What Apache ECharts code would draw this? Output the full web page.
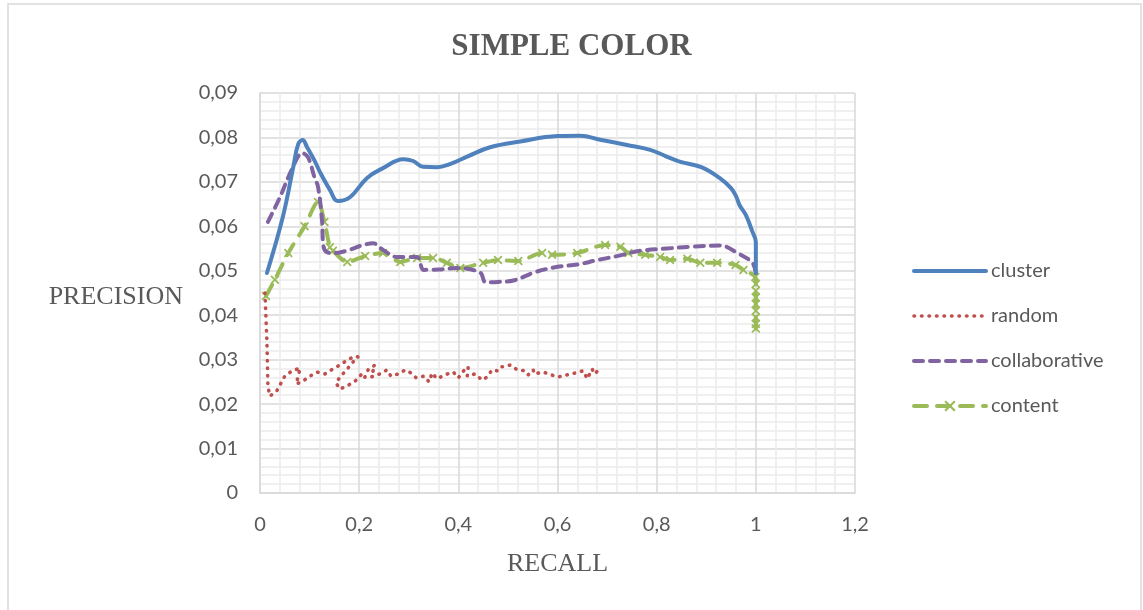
<!DOCTYPE html>
<html>
<head>
<meta charset="utf-8">
<title>SIMPLE COLOR</title>
<script src="https://cdn.jsdelivr.net/npm/echarts@6/dist/echarts.min.js"></script>
<style>
  html, body { margin: 0; padding: 0; background: #ffffff; }
  #chart { width: 1143px; height: 610px; }
</style>
</head>
<body>
<div id="chart"></div>
<script>
// Precision / recall curves for four recommenders, [recall, precision] pairs.
var clusterPoints = [
  [0.014, 0.0495], [0.046, 0.0621], [0.067, 0.0733], [0.077, 0.0785], [0.086, 0.0794],
  [0.095, 0.0778], [0.11, 0.0748], [0.121, 0.0722], [0.141, 0.0682], [0.157, 0.0657],
  [0.182, 0.0666], [0.216, 0.0709], [0.248, 0.0731], [0.289, 0.0751], [0.309, 0.0747],
  [0.329, 0.0734], [0.357, 0.0733], [0.383, 0.074], [0.42, 0.0758], [0.464, 0.0778],
  [0.525, 0.0791], [0.6, 0.0803], [0.646, 0.0804], [0.686, 0.0795], [0.74, 0.0783],
  [0.787, 0.0772], [0.82, 0.0757], [0.848, 0.0745], [0.89, 0.0733], [0.928, 0.0708],
  [0.95, 0.0686], [0.96, 0.0668], [0.967, 0.0648], [0.98, 0.0625], [0.993, 0.0588],
  [1.0, 0.0565], [1.0, 0.0495]
];

var randomPoints = [
  [0.01, 0.045], [0.014, 0.034], [0.016, 0.0239], [0.02, 0.0218], [0.034, 0.023],
  [0.05, 0.0263], [0.065, 0.0275], [0.081, 0.0281], [0.073, 0.0245], [0.087, 0.0252],
  [0.101, 0.0263], [0.115, 0.0272], [0.131, 0.0268], [0.147, 0.0279], [0.161, 0.0288],
  [0.176, 0.0299], [0.192, 0.0308], [0.198, 0.0306], [0.186, 0.0293], [0.176, 0.0279],
  [0.163, 0.0263], [0.153, 0.0248], [0.161, 0.0234], [0.176, 0.0241], [0.192, 0.0252],
  [0.204, 0.0266], [0.21, 0.0257], [0.218, 0.0277], [0.232, 0.0288], [0.224, 0.0261],
  [0.242, 0.0268], [0.256, 0.0277], [0.264, 0.0263], [0.279, 0.0268], [0.293, 0.0277],
  [0.305, 0.027], [0.315, 0.0259], [0.331, 0.0263], [0.341, 0.025], [0.347, 0.027],
  [0.357, 0.0257], [0.373, 0.0266], [0.39, 0.0272], [0.4, 0.0259], [0.408, 0.0272],
  [0.42, 0.0284], [0.418, 0.0263], [0.434, 0.0268], [0.448, 0.0254], [0.458, 0.0261],
  [0.468, 0.0277], [0.478, 0.0275], [0.484, 0.0284], [0.49, 0.0284], [0.505, 0.0288],
  [0.519, 0.0277], [0.535, 0.0275], [0.541, 0.0266], [0.551, 0.0277], [0.553, 0.0268],
  [0.571, 0.0272], [0.587, 0.0266], [0.601, 0.0261], [0.62, 0.0266], [0.636, 0.027],
  [0.652, 0.0275], [0.66, 0.0257], [0.67, 0.0279], [0.674, 0.0268], [0.686, 0.0279]
];

var collaborativePoints = [
  [0.016, 0.061], [0.04, 0.0665], [0.065, 0.073], [0.085, 0.0765], [0.097, 0.0755],
  [0.11, 0.071], [0.117, 0.0689], [0.125, 0.0614], [0.128, 0.0555], [0.135, 0.0542],
  [0.15, 0.054], [0.18, 0.0547], [0.205, 0.0557], [0.228, 0.0562], [0.248, 0.0547],
  [0.276, 0.0531], [0.317, 0.0531], [0.33, 0.0502], [0.36, 0.0503], [0.397, 0.0506],
  [0.444, 0.0496], [0.455, 0.0474], [0.48, 0.0475], [0.511, 0.0478], [0.555, 0.0497],
  [0.6, 0.0509], [0.64, 0.0514], [0.68, 0.0524], [0.72, 0.0533], [0.767, 0.0545],
  [0.82, 0.055], [0.868, 0.0554], [0.928, 0.0557], [0.963, 0.054], [0.993, 0.0518],
  [1.0, 0.0495]
];

var contentPoints = [
  [0.012, 0.0443], [0.03, 0.048], [0.057, 0.054], [0.09, 0.06], [0.117, 0.0655],
  [0.13, 0.061], [0.141, 0.0553], [0.147, 0.0545], [0.176, 0.052], [0.212, 0.0533],
  [0.248, 0.054], [0.283, 0.052], [0.317, 0.0529], [0.349, 0.0529], [0.377, 0.0518],
  [0.404, 0.0506], [0.45, 0.0518], [0.48, 0.0524], [0.521, 0.0522], [0.569, 0.054],
  [0.589, 0.0536], [0.64, 0.054], [0.696, 0.0558], [0.727, 0.0554], [0.743, 0.054],
  [0.777, 0.0536], [0.807, 0.0531], [0.827, 0.0524], [0.862, 0.0527], [0.888, 0.0518],
  [0.922, 0.0518], [0.959, 0.0513], [0.975, 0.0502], [0.999, 0.0486], [1.0, 0.047],
  [1.0, 0.0455], [1.0, 0.044], [1.0, 0.0425], [1.0, 0.041], [1.0, 0.0395],
  [1.0, 0.038], [1.0, 0.037]
];

var seriesNames = ['cluster', 'random', 'collaborative', 'content'];
var chartTitle = 'SIMPLE COLOR';
var xAxisName = 'RECALL';
var yAxisName = 'PRECISION';

var TEXT_GREY = '#595959';
var COLORS = ['#4F81BD', '#C0504D', '#8064A2', '#9BBB59'];
var DASHES = ['solid', [0.5, 7], [9, 7], [13, 10]];
var WIDTHS = [4, 3.6, 4, 4];
var CROSS = 'path://M0,1.4L1.4,0L5,3.6L8.6,0L10,1.4L6.4,5L10,8.6L8.6,10L5,6.4L1.4,10L0,8.6L3.6,5Z';

function commaNumber(v, digits) {
  if (Math.abs(v) < 1e-9) return '0';
  if (Math.abs(v - Math.round(v)) < 1e-9) return String(Math.round(v));
  return v.toFixed(digits).replace('.', ',');
}

// Legend entries: plain line samples, the content entry keeps its cross marker.
var legendItems = seriesNames.map(function (name, i) {
  return {
    name: name,
    itemStyle: { opacity: i === 3 ? 1 : 0 },
    lineStyle: { color: COLORS[i], width: WIDTHS[i], type: DASHES[i], cap: 'round' }
  };
});

var chart = echarts.init(document.getElementById('chart'), null, { renderer: 'canvas' });

chart.setOption({
  backgroundColor: '#ffffff',
  animation: false,
  title: {
    text: chartTitle,
    left: 'center',
    top: 26,
    textStyle: {
      fontFamily: '"Liberation Serif", "DejaVu Serif", serif',
      fontWeight: 'bold',
      fontSize: 31,
      color: TEXT_GREY
    }
  },
  graphic: [{
    type: 'rect',
    shape: { x: 8, y: 4, width: 1133, height: 640 },
    style: { fill: 'none', stroke: '#d9d9d9', lineWidth: 1.5 },
    silent: true,
    z: -10
  }],
  legend: {
    orient: 'vertical',
    left: 907,
    top: 256,
    itemWidth: 72,
    itemHeight: 14,
    itemGap: 25,
    textStyle: { fontFamily: 'Lato, "Open Sans", sans-serif', fontSize: 20, color: TEXT_GREY },
    data: legendItems
  },
  grid: { left: 260, top: 93, width: 595, height: 400, containLabel: false },
  xAxis: {
    type: 'value',
    min: 0,
    max: 1.2,
    interval: 0.2,
    name: xAxisName,
    nameLocation: 'middle',
    nameGap: 58,
    nameTextStyle: {
      fontFamily: '"Liberation Serif", "DejaVu Serif", serif',
      fontSize: 26,
      color: TEXT_GREY
    },
    axisLine: { show: true, lineStyle: { color: '#d9d9d9', width: 1.5 } },
    axisTick: { show: false },
    axisLabel: {
      margin: 22,
      fontFamily: 'Lato, "Open Sans", sans-serif',
      fontSize: 20,
      color: TEXT_GREY,
      formatter: function (v) { return commaNumber(v, 1); }
    },
    splitLine: { show: true, lineStyle: { color: '#d9d9d9', width: 1.5 } },
    minorTick: { show: false, splitNumber: 5 },
    minorSplitLine: { show: true, lineStyle: { color: '#ececec', width: 1.5 } }
  },
  yAxis: {
    type: 'value',
    min: 0,
    max: 0.09,
    interval: 0.01,
    name: yAxisName,
    nameLocation: 'middle',
    nameRotate: 0,
    nameGap: 77,
    nameTextStyle: {
      fontFamily: '"Liberation Serif", "DejaVu Serif", serif',
      fontSize: 26,
      color: TEXT_GREY,
      align: 'right',
      verticalAlign: 'top',
      lineHeight: 8
    },
    axisLine: { show: true, lineStyle: { color: '#d9d9d9', width: 1.5 } },
    axisTick: { show: false },
    axisLabel: {
      margin: 22,
      fontFamily: 'Lato, "Open Sans", sans-serif',
      fontSize: 20,
      color: TEXT_GREY,
      formatter: function (v) { return commaNumber(v, 2); }
    },
    splitLine: { show: true, lineStyle: { color: '#d9d9d9', width: 1.5 } },
    minorTick: { show: false, splitNumber: 5 },
    minorSplitLine: { show: true, lineStyle: { color: '#ececec', width: 1.5 } }
  },
  series: [
    {
      name: seriesNames[0],
      type: 'line',
      data: clusterPoints,
      smooth: 0.4,
      symbol: 'none',
      z: 4,
      itemStyle: { color: COLORS[0] },
      lineStyle: { color: COLORS[0], width: WIDTHS[0], cap: 'round', join: 'round' }
    },
    {
      name: seriesNames[1],
      type: 'line',
      data: randomPoints,
      smooth: false,
      symbol: 'none',
      z: 3,
      itemStyle: { color: COLORS[1] },
      lineStyle: { color: COLORS[1], width: WIDTHS[1], type: DASHES[1], cap: 'round', join: 'round' }
    },
    {
      name: seriesNames[2],
      type: 'line',
      data: collaborativePoints,
      smooth: 0.35,
      symbol: 'none',
      z: 2,
      itemStyle: { color: COLORS[2] },
      lineStyle: { color: COLORS[2], width: WIDTHS[2], type: DASHES[2], cap: 'round', join: 'round' }
    },
    {
      name: seriesNames[3],
      type: 'line',
      data: contentPoints,
      smooth: 0.3,
      symbol: CROSS,
      symbolSize: 9,
      showAllSymbol: true,
      z: 1,
      itemStyle: { color: COLORS[3] },
      lineStyle: { color: COLORS[3], width: WIDTHS[3], type: DASHES[3], cap: 'round', join: 'round' }
    }
  ]
});
</script>
</body>
</html>
